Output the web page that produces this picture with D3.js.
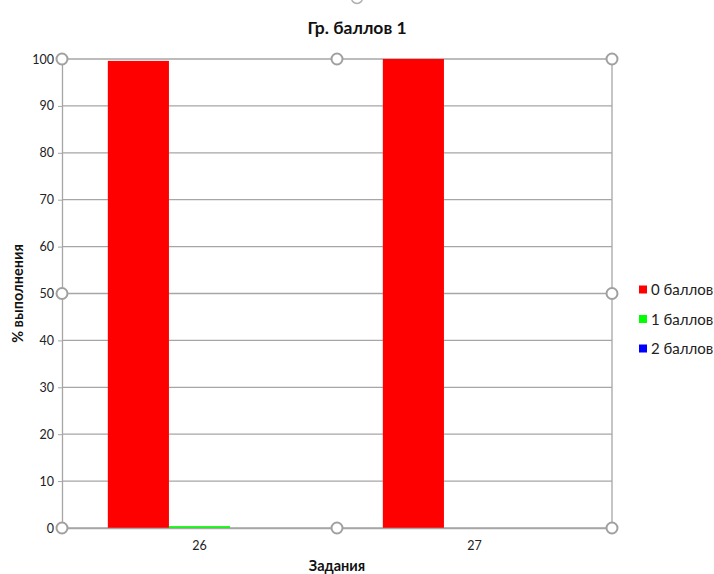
<!DOCTYPE html>
<html>
<head>
<meta charset="utf-8">
<script src="https://cdn.jsdelivr.net/npm/d3@7"></script>
<style>
  html, body { margin: 0; padding: 0; background: #fff; }
  svg { display: block; font-family: Lato, "Open Sans", "Liberation Sans", sans-serif; }
</style>
</head>
<body>
<svg id="chart" width="714" height="574"></svg>
<script>
// Task numbers along the x axis
const categories = ["26", "27"];
// Series: share of students with each score, % per task
const seriesNames = ["0 баллов", "1 баллов", "2 баллов"];
const series0 = [99.6, 100];
const series1 = [0.4, 0];
const series2 = [0, 0];
const seriesColors = ["#ff0000", "#00ff00", "#0000ff"];
const yTicks = [0, 10, 20, 30, 40, 50, 60, 70, 80, 90, 100];

const chartTitle = "Гр. баллов 1";
const xTitle = "Задания";
const yTitle = "% выполнения";

const seriesValues = [series0, series1, series2];

const svg = d3.select("#chart");
const margin = { left: 62, right: 102, top: 59, bottom: 46 };
const W = 714, H = 574;
const plotW = W - margin.left - margin.right;
const plotH = H - margin.top - margin.bottom;

const g = svg.append("g").attr("transform", `translate(${margin.left},${margin.top})`);

const x0 = d3.scaleBand().domain(categories).range([0, plotW]).paddingInner(0).paddingOuter(0);
const x1 = d3.scaleBand().domain(seriesNames).range([0, x0.bandwidth()]).paddingInner(0).paddingOuter(0.75);
const y = d3.scaleLinear().domain([0, 100]).range([plotH, 0]);

const gridColor = "#a6a6a6";

// Horizontal gridlines
g.append("g").selectAll("line").data(yTicks).join("line")
  .attr("x1", 0).attr("x2", plotW)
  .attr("y1", d => y(d)).attr("y2", d => y(d))
  .attr("stroke", gridColor).attr("stroke-width", 1.3);

// Right border of plot area
g.append("line").attr("x1", plotW).attr("x2", plotW).attr("y1", 0).attr("y2", plotH)
  .attr("stroke", gridColor).attr("stroke-width", 1.3);

// Bars
const rows = [];
categories.forEach((c, i) => {
  seriesNames.forEach((s, j) => rows.push({ cat: c, s, v: seriesValues[j][i], color: seriesColors[j] }));
});
g.append("g").selectAll("rect").data(rows).join("rect")
  .attr("x", d => x0(d.cat) + x1(d.s))
  .attr("width", x1.bandwidth())
  .attr("y", d => y(d.v))
  .attr("height", d => y(0) - y(d.v))
  .attr("fill", d => d.color);

// Y axis
const yAxis = g.append("g")
  .call(d3.axisLeft(y).tickValues(yTicks).tickSize(4).tickPadding(4).tickFormat(d3.format("d")));
yAxis.select(".domain").attr("stroke", gridColor).attr("stroke-width", 1.3);
yAxis.selectAll(".tick line").attr("stroke", gridColor);
yAxis.selectAll(".tick text").attr("font-size", 12.5).attr("fill", "#222").attr("font-family", "Lato, sans-serif");

// X axis
const xAxis = g.append("g").attr("transform", `translate(0,${plotH})`)
  .call(d3.axisBottom(x0).tickSize(0).tickPadding(13));
xAxis.select(".domain").attr("stroke", gridColor).attr("stroke-width", 1.3);
xAxis.selectAll(".tick text").attr("font-size", 12.5).attr("fill", "#222").attr("font-family", "Lato, sans-serif");

// Selection handles around the plot area
const handles = [
  [0, 0], [plotW / 2, 0], [plotW, 0],
  [0, plotH / 2], [plotW, plotH / 2],
  [0, plotH], [plotW / 2, plotH], [plotW, plotH]
];
g.append("g").selectAll("circle").data(handles).join("circle")
  .attr("cx", d => d[0]).attr("cy", d => d[1]).attr("r", 5.5)
  .attr("fill", "#fff").attr("stroke", "#a0a0a0").attr("stroke-width", 2);

// Handle of the title (partly outside the view)
svg.append("circle").attr("cx", 357).attr("cy", -2).attr("r", 5.5)
  .attr("fill", "#fff").attr("stroke", "#b0b0b0").attr("stroke-width", 1.5);

// Titles
svg.append("text").attr("x", 357).attr("y", 34).attr("text-anchor", "middle")
  .attr("font-size", 17.5).attr("font-weight", "bold").attr("fill", "#111").text(chartTitle);
svg.append("text").attr("x", margin.left + plotW / 2).attr("y", 571).attr("text-anchor", "middle")
  .attr("font-size", 14.5).attr("font-weight", "bold").attr("fill", "#111").text(xTitle);
svg.append("text").attr("transform", `translate(23,${margin.top + plotH / 2}) rotate(-90)`)
  .attr("text-anchor", "middle").attr("font-size", 14.5).attr("font-weight", "bold").attr("fill", "#111").text(yTitle);

// Legend
const legend = svg.append("g").attr("transform", "translate(639,290)");
const li = legend.selectAll("g").data(seriesNames).join("g")
  .attr("transform", (d, i) => `translate(0,${i * 29.5})`);
li.append("rect").attr("x", 0).attr("y", -4.5).attr("width", 8).attr("height", 8)
  .attr("fill", (d, i) => seriesColors[i]);
li.append("text").attr("x", 12).attr("y", 0).attr("dy", "0.35em")
  .attr("font-size", 15).attr("fill", "#222").text(d => d);
</script>
</body>
</html>
